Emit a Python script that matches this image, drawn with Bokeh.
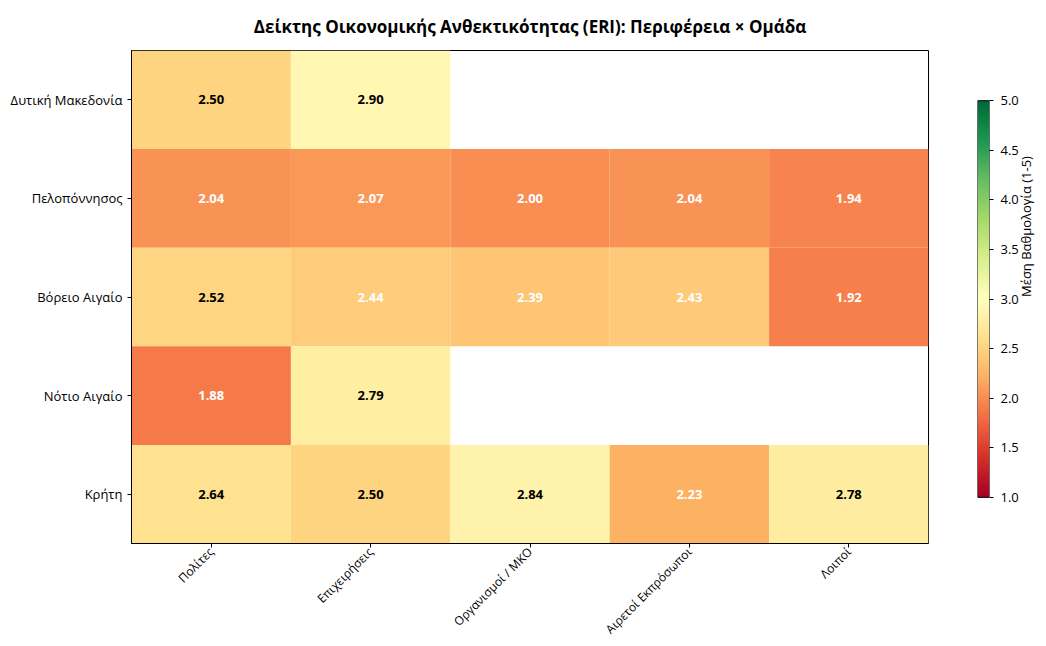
import numpy as np
from bokeh.plotting import figure
from bokeh.layouts import row
from bokeh.models import ColumnDataSource, LinearColorMapper, FixedTicker, PrintfTickFormatter, Range1d, FactorRange
from bokeh.transform import linear_cmap
from bokeh.core.properties import value
from bokeh.embed import file_html
from bokeh.resources import INLINE

regions = ["Δυτική Μακεδονία", "Πελοπόννησος", "Βόρειο Αιγαίο", "Νότιο Αιγαίο", "Κρήτη"]
groups = ["Πολίτες", "Επιχειρήσεις", "Οργανισμοί / ΜΚΟ", "Αιρετοί Εκπρόσωποι", "Λοιποί"]
nan = float("nan")
eri_dytiki_makedonia = [2.50, 2.90, nan, nan, nan]
eri_peloponnisos = [2.04, 2.07, 2.00, 2.04, 1.94]
eri_voreio_aigaio = [2.52, 2.44, 2.39, 2.43, 1.92]
eri_notio_aigaio = [1.88, 2.79, nan, nan, nan]
eri_kriti = [2.64, 2.50, 2.84, 2.23, 2.78]
rows_vals = [eri_dytiki_makedonia, eri_peloponnisos, eri_voreio_aigaio, eri_notio_aigaio, eri_kriti]
cbar_ticks = [1.0, 1.5, 2.0, 2.5, 3.0, 3.5, 4.0, 4.5, 5.0]
cbar_low, cbar_high = 1.0, 5.0

FONT = "Open Sans"

# RdYlGn colormap (low = red, high = green)
ctrl = ['#a50026', '#d73027', '#f46d43', '#fdae61', '#fee08b', '#ffffbf',
        '#d9ef8b', '#a6d96a', '#66bd63', '#1a9850', '#006837']
ctrl_rgb = np.array([[int(c[i:i + 2], 16) for i in (1, 3, 5)] for c in ctrl], dtype=float)
pos = np.linspace(0, 1, len(ctrl))
tt = np.linspace(0, 1, 256)
palette = []
for t in tt:
    rgb = [np.interp(t, pos, ctrl_rgb[:, k]) for k in range(3)]
    palette.append("#%02x%02x%02x" % tuple(int(round(v)) for v in rgb))

xs, ys, vs, labels, tcolors = [], [], [], [], []
for r, vals in zip(regions, rows_vals):
    for g, v in zip(groups, vals):
        if v == v:
            xs.append(g)
            ys.append(r)
            vs.append(v)
            labels.append("%.2f" % v)
            tcolors.append("white" if v < 2.5 else "black")
src = ColumnDataSource(dict(x=xs, y=ys, v=vs, label=labels, tc=tcolors))

H = 646
p = figure(x_range=FactorRange(*groups), y_range=FactorRange(*regions[::-1]),
           width=938, height=H, output_backend="svg", toolbar_location=None,
           min_border_left=131, min_border_right=10, min_border_top=50, min_border_bottom=20,
           title="Δείκτης Οικονομικής Ανθεκτικότητας (ERI): Περιφέρεια × Ομάδα")
p.title.align = "center"
p.title.text_font = FONT
p.title.text_font_size = "17px"
p.title.text_font_style = "bold"
p.title.text_color = "black"
p.title.standoff = 25

p.rect(x="x", y="y", width=1, height=1, source=src,
       fill_color=linear_cmap("v", palette, cbar_low, cbar_high), line_color=None)
p.text(x="x", y="y", text="label", source=src, text_color="tc",
       text_align="center", text_baseline="middle",
       text_font=value(FONT), text_font_size="13px", text_font_style="bold")

p.grid.visible = False
p.outline_line_color = "black"
p.outline_line_width = 1
p.background_fill_color = "white"
for ax in (p.xaxis[0], p.yaxis[0]):
    ax.axis_line_color = "black"
    ax.major_tick_line_color = "black"
    ax.major_tick_out = 4
    ax.major_tick_in = 0
    ax.minor_tick_line_color = None
    ax.major_label_text_font = FONT
    ax.major_label_text_font_size = "13px"
    ax.major_label_text_color = "black"
p.xaxis.major_label_orientation = np.pi / 4
p.xaxis.major_label_text_font_size = "12px"
p.xaxis.major_label_standoff = 2

# colorbar figure (frame aligned with main frame; bar occupies 100..495 px)
frame_top, frame_bot, bar_top, bar_bot = 50, 541, 100, 495
upp = (cbar_high - cbar_low) / (bar_bot - bar_top)
y0 = cbar_low - (frame_bot - bar_bot) * upp
y1 = cbar_high + (bar_top - frame_top) * upp
cb = figure(x_range=Range1d(0, 1), y_range=Range1d(y0, y1), width=108, height=H,
            output_backend="svg", toolbar_location=None, y_axis_location="right",
            min_border_left=39, min_border_right=48, min_border_top=50, min_border_bottom=20)
grad = np.linspace(cbar_low, cbar_high, 256).reshape(256, 1)
cb.image(image=[grad], x=0, y=cbar_low, dw=1, dh=cbar_high - cbar_low,
         color_mapper=LinearColorMapper(palette=palette, low=cbar_low, high=cbar_high))
cb.quad(left=0, right=1, bottom=cbar_low, top=cbar_high, fill_color=None, line_color="black", line_width=1)
cb.xaxis.visible = False
cb.grid.visible = False
cb.outline_line_color = None
ya = cb.yaxis[0]
ya.ticker = FixedTicker(ticks=cbar_ticks)
ya.formatter = PrintfTickFormatter(format="%.1f")
ya.bounds = (cbar_low, cbar_high)
ya.axis_line_color = None
ya.major_tick_line_color = "black"
ya.major_tick_out = 4
ya.major_tick_in = 0
ya.minor_tick_line_color = None
ya.major_label_standoff = 7
ya.major_label_text_font = FONT
ya.major_label_text_font_size = "13px"
ya.major_label_text_color = "black"
ya.axis_label = "Μέση Βαθμολογία (1-5)"
ya.axis_label_text_font = FONT
ya.axis_label_text_font_size = "13px"
ya.axis_label_text_font_style = "normal"
ya.axis_label_text_color = "black"
ya.axis_label_standoff = 4
ya.axis_label_orientation = np.pi / 2

layout = row(p, cb, spacing=0)
open("out.html", "w").write(file_html(layout, INLINE))
